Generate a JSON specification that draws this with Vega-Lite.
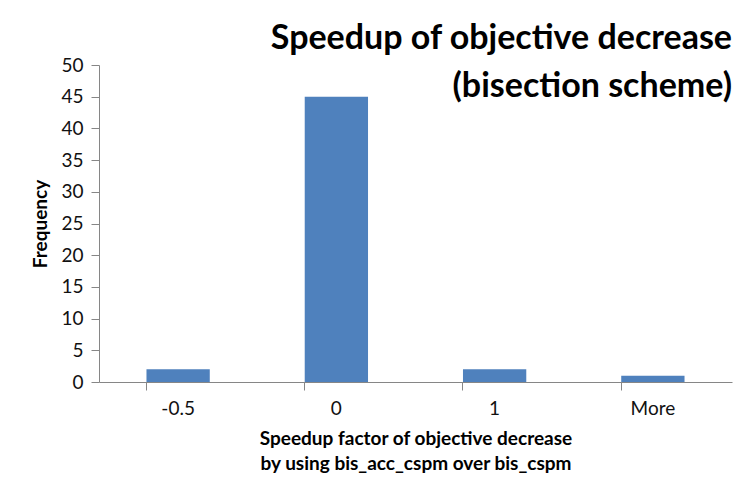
{
  "$schema": "https://vega.github.io/schema/vega-lite/v6.json",
  "width": 633,
  "height": 317,
  "autosize": "none",
  "padding": {"left": 99, "top": 65, "right": 20, "bottom": 98},
  "background": "white",
  "title": {
    "text": ["Speedup of objective decrease", "(bisection scheme)"],
    "anchor": "end",
    "baseline": "top",
    "offset": -48,
    "font": "Lato",
    "fontSize": 34,
    "fontWeight": "bold",
    "color": "black",
    "lineHeight": 48
  },
  "data": {
    "values": [
      {"bin": "-0.5", "frequency": 2},
      {"bin": "0", "frequency": 45},
      {"bin": "1", "frequency": 2},
      {"bin": "More", "frequency": 1}
    ]
  },
  "mark": {"type": "bar", "color": "#4F81BD"},
  "encoding": {
    "x": {
      "field": "bin",
      "type": "nominal",
      "sort": null,
      "scale": {"paddingInner": 0.6, "paddingOuter": 0.3},
      "axis": {
        "title": ["Speedup factor of objective decrease", "by using bis_acc_cspm over bis_cspm"],
        "titleFont": "Lato",
        "titleFontSize": 19,
        "titleFontWeight": "bold",
        "titleColor": "black",
        "titleLineHeight": 25,
        "titlePadding": 11,
        "labelAngle": 0,
        "labelFont": "Lato",
        "labelFontSize": 19,
        "labelColor": "#111111",
        "labelPadding": 9,
        "bandPosition": 0,
        "tickSize": 8,
        "tickColor": "#868686",
        "domainColor": "#868686",
        "grid": false
      }
    },
    "y": {
      "field": "frequency",
      "type": "quantitative",
      "scale": {"domain": [0, 50]},
      "axis": {
        "title": "Frequency",
        "titleFont": "Lato",
        "titleFontSize": 19,
        "titleFontWeight": "bold",
        "titleColor": "black",
        "titlePadding": 10,
        "values": [0, 5, 10, 15, 20, 25, 30, 35, 40, 45, 50],
        "labelFont": "Lato",
        "labelFontSize": 19,
        "labelColor": "#111111",
        "labelPadding": 8,
        "tickSize": 8,
        "tickColor": "#868686",
        "domainColor": "#868686",
        "grid": false
      }
    }
  },
  "config": {"view": {"stroke": null}}
}
